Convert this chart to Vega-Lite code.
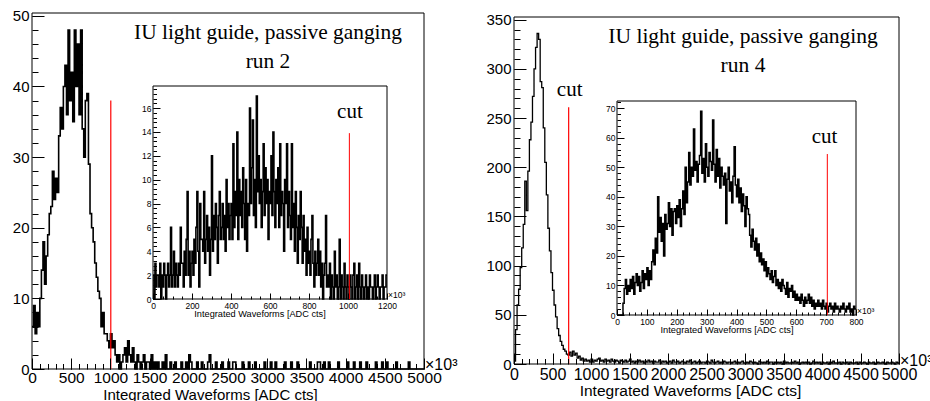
{
"$schema": "https://vega.github.io/schema/vega-lite/v6.json",
"width": 930, "height": 401, "padding": 0, "autosize": {"type": "none"},
"background": "white",
"config": {"view": {"stroke": null}, "axis": {"grid": false, "domain": false, "labelColor": "black", "tickColor": "black", "titleColor": "black", "labelFont": "Liberation Sans", "titleFont": "Liberation Sans", "titleFontWeight": "normal", "labelOverlap": false, "labelFlush": false, "labelBound": false, "tickWidth": 1}},
"data": {"values": [{}]},
"datasets": {
"run2": [{"x":0,"n":6},{"x":20,"n":9},{"x":40,"n":5},{"x":60,"n":8},{"x":80,"n":6},{"x":100,"n":10},{"x":120,"n":14},{"x":140,"n":18},{"x":160,"n":12},{"x":180,"n":16},{"x":200,"n":19},{"x":220,"n":22},{"x":240,"n":23},{"x":260,"n":28},{"x":280,"n":24},{"x":300,"n":27},{"x":320,"n":25},{"x":340,"n":33},{"x":360,"n":37},{"x":380,"n":34},{"x":400,"n":40},{"x":420,"n":43},{"x":440,"n":36},{"x":460,"n":48},{"x":480,"n":38},{"x":500,"n":42},{"x":520,"n":35},{"x":540,"n":48},{"x":560,"n":40},{"x":580,"n":46},{"x":600,"n":36},{"x":620,"n":48},{"x":640,"n":34},{"x":660,"n":30},{"x":680,"n":38},{"x":700,"n":39},{"x":720,"n":29},{"x":740,"n":22},{"x":760,"n":20},{"x":780,"n":18},{"x":800,"n":15},{"x":820,"n":13},{"x":840,"n":11},{"x":860,"n":10},{"x":880,"n":6},{"x":900,"n":8},{"x":920,"n":5},{"x":940,"n":5},{"x":960,"n":4},{"x":980,"n":3},{"x":1000,"n":5},{"x":1020,"n":3},{"x":1040,"n":4},{"x":1060,"n":2},{"x":1080,"n":1},{"x":1100,"n":2},{"x":1120,"n":0},{"x":1140,"n":1},{"x":1160,"n":2},{"x":1180,"n":3},{"x":1200,"n":1},{"x":1220,"n":4},{"x":1240,"n":2},{"x":1260,"n":1},{"x":1280,"n":3},{"x":1300,"n":1},{"x":1320,"n":0},{"x":1340,"n":2},{"x":1360,"n":1},{"x":1380,"n":0},{"x":1400,"n":1},{"x":1420,"n":2},{"x":1440,"n":0},{"x":1460,"n":1},{"x":1480,"n":1},{"x":1500,"n":0},{"x":1520,"n":2},{"x":1540,"n":0},{"x":1560,"n":1},{"x":1580,"n":0},{"x":1600,"n":1},{"x":1620,"n":0},{"x":1660,"n":1},{"x":1680,"n":0},{"x":1700,"n":2},{"x":1720,"n":0},{"x":1760,"n":1},{"x":1780,"n":0},{"x":1820,"n":1},{"x":1840,"n":0},{"x":1900,"n":1},{"x":1920,"n":0},{"x":1960,"n":1},{"x":1980,"n":0},{"x":2000,"n":2},{"x":2020,"n":1},{"x":2040,"n":0},{"x":2100,"n":1},{"x":2120,"n":0},{"x":2160,"n":1},{"x":2180,"n":0},{"x":2240,"n":1},{"x":2260,"n":2},{"x":2280,"n":0},{"x":2340,"n":1},{"x":2360,"n":0},{"x":2420,"n":1},{"x":2440,"n":0},{"x":2500,"n":1},{"x":2520,"n":0},{"x":2560,"n":1},{"x":2580,"n":1},{"x":2600,"n":0},{"x":2680,"n":1},{"x":2700,"n":0},{"x":2760,"n":1},{"x":2780,"n":0},{"x":2840,"n":1},{"x":2860,"n":0},{"x":2960,"n":1},{"x":2980,"n":0},{"x":3040,"n":1},{"x":3060,"n":0},{"x":3100,"n":1},{"x":3120,"n":0},{"x":3220,"n":1},{"x":3240,"n":0},{"x":3300,"n":1},{"x":3320,"n":0},{"x":3380,"n":1},{"x":3400,"n":0},{"x":3540,"n":1},{"x":3560,"n":0},{"x":3640,"n":1},{"x":3660,"n":1},{"x":3680,"n":0},{"x":3720,"n":1},{"x":3740,"n":0},{"x":3780,"n":1},{"x":3800,"n":0},{"x":3900,"n":1},{"x":3920,"n":0},{"x":4020,"n":1},{"x":4040,"n":0},{"x":4100,"n":1},{"x":4120,"n":0},{"x":4180,"n":1},{"x":4200,"n":0},{"x":4260,"n":1},{"x":4280,"n":0},{"x":4380,"n":1},{"x":4400,"n":0},{"x":4460,"n":1},{"x":4480,"n":0},{"x":4520,"n":1},{"x":4540,"n":0},{"x":4640,"n":1},{"x":4660,"n":0},{"x":4800,"n":1},{"x":4820,"n":0},{"x":5000,"n":0}],
"run2zoom": [{"x":0,"n":2},{"x":5,"n":0},{"x":10,"n":3},{"x":15,"n":1},{"x":20,"n":2},{"x":25,"n":2},{"x":30,"n":1},{"x":35,"n":3},{"x":40,"n":0},{"x":45,"n":2},{"x":50,"n":1},{"x":55,"n":3},{"x":60,"n":2},{"x":65,"n":0},{"x":70,"n":2},{"x":75,"n":3},{"x":80,"n":1},{"x":85,"n":2},{"x":90,"n":6},{"x":95,"n":1},{"x":100,"n":2},{"x":105,"n":4},{"x":110,"n":1},{"x":115,"n":3},{"x":120,"n":2},{"x":125,"n":1},{"x":130,"n":3},{"x":135,"n":2},{"x":140,"n":6},{"x":145,"n":3},{"x":150,"n":3},{"x":155,"n":1},{"x":160,"n":4},{"x":165,"n":2},{"x":170,"n":5},{"x":175,"n":9},{"x":180,"n":2},{"x":185,"n":4},{"x":190,"n":1},{"x":195,"n":3},{"x":200,"n":4},{"x":205,"n":2},{"x":210,"n":5},{"x":215,"n":3},{"x":220,"n":6},{"x":225,"n":9},{"x":230,"n":4},{"x":235,"n":1},{"x":240,"n":8},{"x":245,"n":5},{"x":250,"n":5},{"x":255,"n":4},{"x":260,"n":9},{"x":265,"n":3},{"x":270,"n":5},{"x":275,"n":7},{"x":280,"n":4},{"x":285,"n":6},{"x":290,"n":2},{"x":295,"n":5},{"x":300,"n":12},{"x":305,"n":4},{"x":310,"n":7},{"x":315,"n":5},{"x":320,"n":8},{"x":325,"n":6},{"x":330,"n":3},{"x":335,"n":7},{"x":340,"n":9},{"x":345,"n":5},{"x":350,"n":6},{"x":355,"n":8},{"x":360,"n":5},{"x":365,"n":7},{"x":370,"n":4},{"x":375,"n":10},{"x":380,"n":6},{"x":385,"n":8},{"x":390,"n":5},{"x":395,"n":7},{"x":400,"n":8},{"x":405,"n":5},{"x":410,"n":13},{"x":415,"n":6},{"x":420,"n":9},{"x":425,"n":7},{"x":430,"n":14},{"x":435,"n":5},{"x":440,"n":10},{"x":445,"n":7},{"x":450,"n":9},{"x":455,"n":6},{"x":460,"n":11},{"x":465,"n":8},{"x":470,"n":5},{"x":475,"n":10},{"x":480,"n":4},{"x":485,"n":8},{"x":490,"n":7},{"x":495,"n":16},{"x":500,"n":8},{"x":505,"n":11},{"x":510,"n":15},{"x":515,"n":7},{"x":520,"n":10},{"x":525,"n":6},{"x":530,"n":17},{"x":535,"n":9},{"x":540,"n":12},{"x":545,"n":8},{"x":550,"n":10},{"x":555,"n":6},{"x":560,"n":9},{"x":565,"n":13},{"x":570,"n":7},{"x":575,"n":11},{"x":580,"n":8},{"x":585,"n":10},{"x":590,"n":5},{"x":595,"n":9},{"x":600,"n":8},{"x":605,"n":12},{"x":610,"n":7},{"x":615,"n":14},{"x":620,"n":9},{"x":625,"n":6},{"x":630,"n":10},{"x":635,"n":8},{"x":640,"n":11},{"x":645,"n":6},{"x":650,"n":13},{"x":655,"n":7},{"x":660,"n":9},{"x":665,"n":8},{"x":670,"n":4},{"x":675,"n":10},{"x":680,"n":8},{"x":685,"n":13},{"x":690,"n":6},{"x":695,"n":9},{"x":700,"n":7},{"x":705,"n":5},{"x":710,"n":13},{"x":715,"n":6},{"x":720,"n":8},{"x":725,"n":4},{"x":730,"n":9},{"x":735,"n":6},{"x":740,"n":3},{"x":745,"n":7},{"x":750,"n":5},{"x":755,"n":9},{"x":760,"n":6},{"x":765,"n":3},{"x":770,"n":7},{"x":775,"n":4},{"x":780,"n":5},{"x":785,"n":2},{"x":790,"n":6},{"x":795,"n":3},{"x":800,"n":4},{"x":805,"n":2},{"x":810,"n":5},{"x":815,"n":7},{"x":820,"n":3},{"x":825,"n":1},{"x":830,"n":4},{"x":835,"n":2},{"x":840,"n":3},{"x":845,"n":5},{"x":850,"n":2},{"x":855,"n":4},{"x":860,"n":1},{"x":865,"n":3},{"x":870,"n":0},{"x":875,"n":2},{"x":880,"n":3},{"x":885,"n":7},{"x":890,"n":1},{"x":895,"n":2},{"x":900,"n":1},{"x":905,"n":3},{"x":910,"n":0},{"x":915,"n":2},{"x":920,"n":1},{"x":925,"n":0},{"x":930,"n":4},{"x":935,"n":1},{"x":940,"n":2},{"x":945,"n":0},{"x":950,"n":1},{"x":955,"n":5},{"x":960,"n":0},{"x":965,"n":2},{"x":970,"n":1},{"x":975,"n":0},{"x":980,"n":3},{"x":985,"n":1},{"x":990,"n":0},{"x":995,"n":2},{"x":1000,"n":1},{"x":1005,"n":0},{"x":1010,"n":2},{"x":1015,"n":1},{"x":1020,"n":0},{"x":1025,"n":2},{"x":1030,"n":3},{"x":1035,"n":0},{"x":1040,"n":1},{"x":1045,"n":2},{"x":1050,"n":0},{"x":1055,"n":3},{"x":1060,"n":1},{"x":1065,"n":0},{"x":1070,"n":2},{"x":1075,"n":1},{"x":1080,"n":0},{"x":1085,"n":1},{"x":1090,"n":2},{"x":1095,"n":0},{"x":1100,"n":1},{"x":1105,"n":0},{"x":1110,"n":2},{"x":1115,"n":1},{"x":1120,"n":1},{"x":1125,"n":0},{"x":1130,"n":1},{"x":1135,"n":2},{"x":1140,"n":0},{"x":1145,"n":1},{"x":1150,"n":2},{"x":1155,"n":1},{"x":1160,"n":0},{"x":1165,"n":1},{"x":1170,"n":1},{"x":1175,"n":2},{"x":1180,"n":0},{"x":1185,"n":1},{"x":1190,"n":1},{"x":1195,"n":2},{"x":1200,"n":2}],
"run4": [{"x":0,"n":3},{"x":20,"n":35},{"x":40,"n":60},{"x":60,"n":76},{"x":80,"n":98},{"x":100,"n":118},{"x":120,"n":142},{"x":140,"n":186},{"x":160,"n":156},{"x":180,"n":196},{"x":200,"n":228},{"x":220,"n":246},{"x":240,"n":272},{"x":260,"n":300},{"x":280,"n":322},{"x":300,"n":336},{"x":320,"n":330},{"x":340,"n":287},{"x":360,"n":281},{"x":380,"n":240},{"x":400,"n":205},{"x":420,"n":172},{"x":440,"n":138},{"x":460,"n":115},{"x":480,"n":93},{"x":500,"n":75},{"x":520,"n":60},{"x":540,"n":48},{"x":560,"n":36},{"x":580,"n":29},{"x":600,"n":23},{"x":620,"n":19},{"x":640,"n":15},{"x":660,"n":13},{"x":680,"n":10},{"x":700,"n":9},{"x":720,"n":12},{"x":740,"n":8},{"x":760,"n":13},{"x":780,"n":9},{"x":800,"n":11},{"x":820,"n":6},{"x":840,"n":8},{"x":860,"n":4},{"x":880,"n":6},{"x":900,"n":3},{"x":920,"n":5},{"x":940,"n":3},{"x":960,"n":4},{"x":980,"n":2},
{"x":1000,"n":5},{"x":1020,"n":2},{"x":1040,"n":4},{"x":1060,"n":3},{"x":1080,"n":5},{"x":1100,"n":6},{"x":1120,"n":3},{"x":1140,"n":4},{"x":1160,"n":2},{"x":1180,"n":5},
{"x":1200,"n":3},{"x":1220,"n":4},{"x":1240,"n":2},{"x":1260,"n":5},{"x":1280,"n":3},{"x":1300,"n":2},{"x":1320,"n":4},{"x":1340,"n":3},{"x":1360,"n":1},{"x":1380,"n":4},
{"x":1400,"n":3},{"x":1420,"n":2},{"x":1440,"n":4},{"x":1460,"n":2},{"x":1480,"n":3},{"x":1500,"n":5},{"x":1520,"n":2},{"x":1540,"n":3},{"x":1560,"n":1},{"x":1580,"n":3},
{"x":1600,"n":2},{"x":1620,"n":4},{"x":1640,"n":2},{"x":1660,"n":3},{"x":1680,"n":1},{"x":1700,"n":3},{"x":1720,"n":2},{"x":1740,"n":4},{"x":1760,"n":2},{"x":1780,"n":3},
{"x":1800,"n":1},{"x":1820,"n":3},{"x":1840,"n":2},{"x":1860,"n":2},{"x":1880,"n":4},{"x":1900,"n":1},{"x":1920,"n":3},{"x":1940,"n":2},{"x":1960,"n":3},{"x":1980,"n":1},
{"x":2000,"n":2},{"x":2020,"n":3},{"x":2040,"n":1},{"x":2060,"n":4},{"x":2080,"n":2},{"x":2100,"n":2},{"x":2120,"n":3},{"x":2140,"n":1},{"x":2160,"n":2},{"x":2180,"n":3},
{"x":2200,"n":2},{"x":2220,"n":1},{"x":2240,"n":3},{"x":2260,"n":2},{"x":2280,"n":4},{"x":2300,"n":1},{"x":2320,"n":2},{"x":2340,"n":3},{"x":2360,"n":1},{"x":2380,"n":2},
{"x":2400,"n":3},{"x":2420,"n":1},{"x":2440,"n":2},{"x":2460,"n":2},{"x":2480,"n":1},{"x":2500,"n":3},{"x":2520,"n":2},{"x":2540,"n":1},{"x":2560,"n":4},{"x":2580,"n":2},
{"x":2600,"n":1},{"x":2620,"n":2},{"x":2640,"n":3},{"x":2660,"n":1},{"x":2680,"n":2},{"x":2700,"n":1},{"x":2720,"n":3},{"x":2740,"n":2},{"x":2760,"n":1},{"x":2780,"n":2},
{"x":2800,"n":2},{"x":2820,"n":1},{"x":2840,"n":2},{"x":2860,"n":3},{"x":2880,"n":1},{"x":2900,"n":2},{"x":2920,"n":1},{"x":2940,"n":2},{"x":2960,"n":3},{"x":2980,"n":1},
{"x":3000,"n":1},{"x":3020,"n":2},{"x":3040,"n":1},{"x":3060,"n":3},{"x":3080,"n":2},{"x":3100,"n":1},{"x":3120,"n":2},{"x":3140,"n":1},{"x":3160,"n":0},{"x":3180,"n":3},
{"x":3200,"n":2},{"x":3220,"n":1},{"x":3240,"n":2},{"x":3260,"n":1},{"x":3280,"n":3},{"x":3300,"n":1},{"x":3320,"n":2},{"x":3340,"n":2},{"x":3360,"n":0},{"x":3380,"n":2},
{"x":3400,"n":1},{"x":3420,"n":2},{"x":3440,"n":1},{"x":3460,"n":2},{"x":3480,"n":0},{"x":3500,"n":3},{"x":3520,"n":1},{"x":3540,"n":2},{"x":3560,"n":1},{"x":3580,"n":1},
{"x":3600,"n":2},{"x":3620,"n":1},{"x":3640,"n":3},{"x":3660,"n":1},{"x":3680,"n":2},{"x":3700,"n":0},{"x":3720,"n":1},{"x":3740,"n":2},{"x":3760,"n":1},{"x":3780,"n":2},
{"x":3800,"n":1},{"x":3820,"n":2},{"x":3840,"n":0},{"x":3860,"n":1},{"x":3880,"n":3},{"x":3900,"n":1},{"x":3920,"n":2},{"x":3940,"n":1},{"x":3960,"n":2},{"x":3980,"n":0},
{"x":4000,"n":2},{"x":4020,"n":1},{"x":4040,"n":1},{"x":4060,"n":2},{"x":4080,"n":0},{"x":4100,"n":2},{"x":4120,"n":1},{"x":4140,"n":3},{"x":4160,"n":1},{"x":4180,"n":1},
{"x":4200,"n":1},{"x":4220,"n":2},{"x":4240,"n":0},{"x":4260,"n":2},{"x":4280,"n":1},{"x":4300,"n":1},{"x":4320,"n":2},{"x":4340,"n":0},{"x":4360,"n":2},{"x":4380,"n":1},
{"x":4400,"n":1},{"x":4420,"n":1},{"x":4440,"n":2},{"x":4460,"n":0},{"x":4480,"n":2},{"x":4500,"n":1},{"x":4520,"n":1},{"x":4540,"n":2},{"x":4560,"n":1},{"x":4580,"n":0},
{"x":4600,"n":2},{"x":4620,"n":1},{"x":4640,"n":1},{"x":4660,"n":2},{"x":4680,"n":0},{"x":4700,"n":1},{"x":4720,"n":2},{"x":4740,"n":1},{"x":4760,"n":1},{"x":4780,"n":2},
{"x":4800,"n":1},{"x":4820,"n":0},{"x":4840,"n":2},{"x":4860,"n":1},{"x":4880,"n":1},{"x":4900,"n":2},{"x":4920,"n":1},{"x":4940,"n":0},{"x":4960,"n":2},{"x":4980,"n":1},{"x":5000,"n":1}],
"run4zoom": [{"x":0,"n":0},{"x":4,"n":0},{"x":8,"n":0},{"x":12,"n":0},{"x":16,"n":0},{"x":20,"n":4},{"x":24,"n":9},{"x":28,"n":12},{"x":32,"n":7},{"x":36,"n":10},{"x":40,"n":8},{"x":44,"n":12},{"x":48,"n":9},{"x":52,"n":13},{"x":56,"n":7},{"x":60,"n":11},{"x":64,"n":14},{"x":68,"n":10},{"x":72,"n":13},{"x":76,"n":8},{"x":80,"n":11},{"x":84,"n":15},{"x":88,"n":9},{"x":92,"n":14},{"x":96,"n":12},{"x":100,"n":16},{"x":104,"n":10},{"x":108,"n":15},{"x":112,"n":12},{"x":116,"n":18},{"x":120,"n":22},{"x":124,"n":17},{"x":128,"n":26},{"x":132,"n":21},{"x":136,"n":40},{"x":140,"n":28},{"x":144,"n":33},{"x":148,"n":25},{"x":152,"n":31},{"x":156,"n":20},{"x":160,"n":34},{"x":164,"n":29},{"x":168,"n":31},{"x":172,"n":38},{"x":176,"n":30},{"x":180,"n":36},{"x":184,"n":27},{"x":188,"n":35},{"x":192,"n":36},{"x":196,"n":31},{"x":200,"n":37},{"x":204,"n":33},{"x":208,"n":39},{"x":212,"n":30},{"x":216,"n":36},{"x":220,"n":42},{"x":224,"n":34},{"x":228,"n":50},{"x":232,"n":38},{"x":236,"n":45},{"x":240,"n":55},{"x":244,"n":44},{"x":248,"n":50},{"x":252,"n":47},{"x":256,"n":63},{"x":260,"n":49},{"x":264,"n":52},{"x":268,"n":45},{"x":272,"n":51},{"x":276,"n":54},{"x":280,"n":69},{"x":284,"n":48},{"x":288,"n":53},{"x":292,"n":45},{"x":296,"n":58},{"x":300,"n":50},{"x":304,"n":47},{"x":308,"n":55},{"x":312,"n":52},{"x":316,"n":49},{"x":320,"n":66},{"x":324,"n":51},{"x":328,"n":45},{"x":332,"n":56},{"x":336,"n":47},{"x":340,"n":53},{"x":344,"n":43},{"x":348,"n":50},{"x":352,"n":47},{"x":356,"n":44},{"x":360,"n":48},{"x":364,"n":31},{"x":368,"n":46},{"x":372,"n":50},{"x":376,"n":42},{"x":380,"n":45},{"x":384,"n":38},{"x":388,"n":47},{"x":392,"n":57},{"x":396,"n":44},{"x":400,"n":40},{"x":404,"n":46},{"x":408,"n":38},{"x":412,"n":43},{"x":416,"n":35},{"x":420,"n":41},{"x":424,"n":37},{"x":428,"n":30},{"x":432,"n":40},{"x":436,"n":36},{"x":440,"n":34},{"x":444,"n":27},{"x":448,"n":23},{"x":452,"n":29},{"x":456,"n":25},{"x":460,"n":22},{"x":464,"n":26},{"x":468,"n":20},{"x":472,"n":24},{"x":476,"n":18},{"x":480,"n":21},{"x":484,"n":17},{"x":488,"n":19},{"x":492,"n":15},{"x":496,"n":18},{"x":500,"n":13},{"x":504,"n":16},{"x":508,"n":14},{"x":512,"n":12},{"x":516,"n":15},{"x":520,"n":11},{"x":524,"n":13},{"x":528,"n":15},{"x":532,"n":10},{"x":536,"n":12},{"x":540,"n":9},{"x":544,"n":11},{"x":548,"n":8},{"x":552,"n":12},{"x":556,"n":10},{"x":560,"n":9},{"x":564,"n":7},{"x":568,"n":11},{"x":572,"n":6},{"x":576,"n":9},{"x":580,"n":8},{"x":584,"n":10},{"x":588,"n":6},{"x":592,"n":8},{"x":596,"n":5},{"x":600,"n":7},{"x":604,"n":5},{"x":608,"n":6},{"x":612,"n":4},{"x":616,"n":7},{"x":620,"n":5},{"x":624,"n":3},{"x":628,"n":6},{"x":632,"n":4},{"x":636,"n":5},{"x":640,"n":7},{"x":644,"n":4},{"x":648,"n":6},{"x":652,"n":3},{"x":656,"n":5},{"x":660,"n":2},{"x":664,"n":4},{"x":668,"n":3},{"x":672,"n":5},{"x":676,"n":3},{"x":680,"n":4},{"x":684,"n":2},{"x":688,"n":5},{"x":692,"n":3},{"x":696,"n":2},{"x":700,"n":4},{"x":704,"n":1},{"x":708,"n":3},{"x":712,"n":4},{"x":716,"n":2},{"x":720,"n":3},{"x":724,"n":1},{"x":728,"n":4},{"x":732,"n":2},{"x":736,"n":3},{"x":740,"n":2},{"x":744,"n":1},{"x":748,"n":3},{"x":752,"n":2},{"x":756,"n":4},{"x":760,"n":2},{"x":764,"n":1},{"x":768,"n":3},{"x":772,"n":2},{"x":776,"n":4},{"x":780,"n":1},{"x":784,"n":2},{"x":788,"n":0},{"x":792,"n":3},{"x":796,"n":2},{"x":800,"n":2}]
},
"layer": [
{"mark": {"type": "rect", "fill": "white", "stroke": "black", "strokeWidth": 1},
 "encoding": {
  "x": {"datum": 0, "type": "quantitative", "scale": {"domain": [0, 5000], "range": [32, 424], "nice": false, "zero": false}, "axis": {"orient": "bottom", "offset": -32, "zindex": 2, "values": [0,100,200,300,400,500,600,700,800,900,1000,1100,1200,1300,1400,1500,1600,1700,1800,1900,2000,2100,2200,2300,2400,2500,2600,2700,2800,2900,3000,3100,3200,3300,3400,3500,3600,3700,3800,3900,4000,4100,4200,4300,4400,4500,4600,4700,4800,4900,5000], "tickSize": -5.5, "labels": false, "title": null}},
  "x2": {"datum": 5000},
  "y": {"datum": 0, "type": "quantitative", "scale": {"domain": [0, 50.4], "range": [369, 13], "nice": false, "zero": false}, "axis": {"orient": "left", "offset": -32, "zindex": 2, "values": [0,2,4,6,8,10,12,14,16,18,20,22,24,26,28,30,32,34,36,38,40,42,44,46,48,50], "tickSize": -6, "labels": false, "title": null}},
  "y2": {"datum": 50.4}}},
{"layer": [
  {"data": {"name": "run2"}, "mark": {"type": "line", "interpolate": "step-after", "color": "black", "strokeWidth": 1.6},
   "encoding": {
    "x": {"field": "x", "type": "quantitative", "scale": {"domain": [0, 5000], "range": [32, 424], "nice": false, "zero": false}, "axis": {"orient": "bottom", "offset": -32, "zindex": 2, "values": [0,500,1000,1500,2000,2500,3000,3500,4000,4500,5000], "tickSize": -11, "labelPadding": 12, "labelFontSize": 15.5, "format": "d", "title": "Integrated Waveforms [ADC cts]", "titleFontSize": 15, "titleX": 210, "titleY": 30, "titleAlign": "center", "titleBaseline": "alphabetic"}},
    "y": {"field": "n", "type": "quantitative", "scale": {"domain": [0, 50.4], "range": [369, 13], "nice": false, "zero": false}, "axis": {"orient": "left", "offset": -32, "zindex": 2, "values": [0,10,20,30,40,50], "tickSize": -12, "labelPadding": 15, "labelFontSize": 15, "format": "d", "title": null}}}},
  {"mark": {"type": "rule", "color": "#ff0000", "strokeWidth": 1.2},
   "encoding": {"x": {"datum": 1005, "type": "quantitative"}, "y": {"datum": 0, "type": "quantitative"}, "y2": {"datum": 38}}},
  {"mark": {"type": "text", "text": ["IU light guide, passive ganging", "run 2"], "font": "Liberation Serif", "fontSize": 21.4, "lineHeight": 28.5, "align": "center", "baseline": "alphabetic", "color": "black"},
   "encoding": {"x": {"datum": 3010, "type": "quantitative"}, "y": {"datum": 46.65, "type": "quantitative"}}},
  {"mark": {"type": "text", "text": "×10³", "font": "Liberation Sans", "fontSize": 16, "align": "left", "baseline": "alphabetic", "dx": 1, "dy": 1, "color": "black"},
   "encoding": {"x": {"datum": 5000, "type": "quantitative"}, "y": {"datum": 0, "type": "quantitative"}}}
 ]},
{"mark": {"type": "rect", "fill": "white", "stroke": "black", "strokeWidth": 1},
 "encoding": {
  "x": {"datum": 0, "type": "quantitative", "scale": {"domain": [0, 1200], "range": [153, 387], "nice": false, "zero": false}, "axis": {"orient": "bottom", "offset": -102, "zindex": 2, "values": [0,50,100,150,200,250,300,350,400,450,500,550,600,650,700,750,800,850,900,950,1000,1050,1100,1150,1200], "tickSize": -3, "labels": false, "title": null}},
  "x2": {"datum": 1200},
  "y": {"datum": 0, "type": "quantitative", "scale": {"domain": [0, 17.85], "range": [299, 86], "nice": false, "zero": false}, "axis": {"orient": "left", "offset": -153, "zindex": 2, "values": [0,0.4,0.8,1.2,1.6,2,2.4,2.8,3.2,3.6,4,4.4,4.8,5.2,5.6,6,6.4,6.8,7.2,7.6,8,8.4,8.8,9.2,9.6,10,10.4,10.8,11.2,11.6,12,12.4,12.8,13.2,13.6,14,14.4,14.8,15.2,15.6,16,16.4,16.8,17.2,17.6], "tickSize": -3.5, "labels": false, "title": null}},
  "y2": {"datum": 17.85}}},
{"layer": [
  {"data": {"name": "run2zoom"}, "mark": {"type": "line", "interpolate": "step-after", "color": "black", "strokeWidth": 1.6},
   "encoding": {
    "x": {"field": "x", "type": "quantitative", "scale": {"domain": [0, 1200], "range": [153, 387], "nice": false, "zero": false}, "axis": {"orient": "bottom", "offset": -102, "zindex": 2, "values": [0,200,400,600,800,1000,1200], "tickSize": -6, "labelPadding": 8, "labelFontSize": 8.5, "format": "d", "title": "Integrated Waveforms [ADC cts]", "titleFontSize": 9.2, "titleX": 259.5, "titleY": 17.5, "titleAlign": "center", "titleBaseline": "alphabetic"}},
    "y": {"field": "n", "type": "quantitative", "scale": {"domain": [0, 17.85], "range": [299, 86], "nice": false, "zero": false}, "axis": {"orient": "left", "offset": -153, "zindex": 2, "values": [0,2,4,6,8,10,12,14,16], "tickSize": -7, "labelPadding": 9, "labelFontSize": 8.5, "format": "d", "title": null}}}},
  {"mark": {"type": "rule", "color": "#ff0000", "strokeWidth": 1},
   "encoding": {"x": {"datum": 1007, "type": "quantitative"}, "y": {"datum": 0, "type": "quantitative"}, "y2": {"datum": 13.9}}},
  {"mark": {"type": "text", "text": "cut", "font": "Liberation Serif", "fontSize": 21, "align": "center", "baseline": "alphabetic", "color": "black"},
   "encoding": {"x": {"datum": 1010, "type": "quantitative"}, "y": {"datum": 15.17, "type": "quantitative"}}},
  {"mark": {"type": "text", "text": "×10³", "font": "Liberation Sans", "fontSize": 8.5, "align": "left", "baseline": "alphabetic", "dx": 1, "dy": -1, "color": "black"},
   "encoding": {"x": {"datum": 1200, "type": "quantitative"}, "y": {"datum": 0, "type": "quantitative"}}}
 ]},
{"mark": {"type": "rect", "fill": "white", "stroke": "black", "strokeWidth": 1},
 "encoding": {
  "x": {"datum": 0, "type": "quantitative", "scale": {"domain": [0, 5000], "range": [514, 899], "nice": false, "zero": false}, "axis": {"orient": "bottom", "offset": -37, "zindex": 2, "values": [0,100,200,300,400,500,600,700,800,900,1000,1100,1200,1300,1400,1500,1600,1700,1800,1900,2000,2100,2200,2300,2400,2500,2600,2700,2800,2900,3000,3100,3200,3300,3400,3500,3600,3700,3800,3900,4000,4100,4200,4300,4400,4500,4600,4700,4800,4900,5000], "tickSize": -5.5, "labels": false, "title": null}},
  "x2": {"datum": 5000},
  "y": {"datum": 0, "type": "quantitative", "scale": {"domain": [0, 352.8], "range": [364, 17], "nice": false, "zero": false}, "axis": {"orient": "left", "offset": -514, "zindex": 2, "values": [0,10,20,30,40,50,60,70,80,90,100,110,120,130,140,150,160,170,180,190,200,210,220,230,240,250,260,270,280,290,300,310,320,330,340,350], "tickSize": -6, "labels": false, "title": null}},
  "y2": {"datum": 352.8}}},
{"layer": [
  {"data": {"name": "run4"}, "mark": {"type": "line", "interpolate": "step-after", "color": "black", "strokeWidth": 1.3},
   "encoding": {
    "x": {"field": "x", "type": "quantitative", "scale": {"domain": [0, 5000], "range": [514, 899], "nice": false, "zero": false}, "axis": {"orient": "bottom", "offset": -37, "zindex": 2, "values": [0,500,1000,1500,2000,2500,3000,3500,4000,4500,5000], "tickSize": -11, "labelPadding": 13, "labelFontSize": 16, "format": "d", "title": "Integrated Waveforms [ADC cts]", "titleFontSize": 15.5, "titleX": 690, "titleY": 31, "titleAlign": "center", "titleBaseline": "alphabetic"}},
    "y": {"field": "n", "type": "quantitative", "scale": {"domain": [0, 352.8], "range": [364, 17], "nice": false, "zero": false}, "axis": {"orient": "left", "offset": -514, "zindex": 2, "values": [0,50,100,150,200,250,300,350], "tickSize": -12, "labelPadding": 15, "labelFontSize": 15, "format": "d", "title": null}}}},
  {"mark": {"type": "rule", "color": "#ff0000", "strokeWidth": 1.2},
   "encoding": {"x": {"datum": 710, "type": "quantitative"}, "y": {"datum": 0, "type": "quantitative"}, "y2": {"datum": 261}}},
  {"mark": {"type": "text", "text": "cut", "font": "Liberation Serif", "fontSize": 21, "align": "center", "baseline": "alphabetic", "color": "black"},
   "encoding": {"x": {"datum": 723, "type": "quantitative"}, "y": {"datum": 272, "type": "quantitative"}}},
  {"mark": {"type": "text", "text": ["IU light guide, passive ganging", "run 4"], "font": "Liberation Serif", "fontSize": 21.5, "lineHeight": 29, "align": "center", "baseline": "alphabetic", "color": "black"},
   "encoding": {"x": {"datum": 2974, "type": "quantitative"}, "y": {"datum": 326.4, "type": "quantitative"}}},
  {"mark": {"type": "text", "text": "×10³", "font": "Liberation Sans", "fontSize": 16, "align": "left", "baseline": "alphabetic", "dx": 1, "dy": 2, "color": "black"},
   "encoding": {"x": {"datum": 5000, "type": "quantitative"}, "y": {"datum": 0, "type": "quantitative"}}}
 ]},
{"mark": {"type": "rect", "fill": "white", "stroke": "black", "strokeWidth": 1},
 "encoding": {
  "x": {"datum": 0, "type": "quantitative", "scale": {"domain": [0, 800], "range": [617, 856], "nice": false, "zero": false}, "axis": {"orient": "bottom", "offset": -86, "zindex": 2, "values": [0,20,40,60,80,100,120,140,160,180,200,220,240,260,280,300,320,340,360,380,400,420,440,460,480,500,520,540,560,580,600,620,640,660,680,700,720,740,760,780,800], "tickSize": -3, "labels": false, "title": null}},
  "x2": {"datum": 800},
  "y": {"datum": 0, "type": "quantitative", "scale": {"domain": [0, 72.45], "range": [315, 101], "nice": false, "zero": false}, "axis": {"orient": "left", "offset": -617, "zindex": 2, "values": [0,2,4,6,8,10,12,14,16,18,20,22,24,26,28,30,32,34,36,38,40,42,44,46,48,50,52,54,56,58,60,62,64,66,68,70,72], "tickSize": -3.5, "labels": false, "title": null}},
  "y2": {"datum": 72.45}}},
{"layer": [
  {"data": {"name": "run4zoom"}, "mark": {"type": "line", "interpolate": "step-after", "color": "black", "strokeWidth": 1.5},
   "encoding": {
    "x": {"field": "x", "type": "quantitative", "scale": {"domain": [0, 800], "range": [617, 856], "nice": false, "zero": false}, "axis": {"orient": "bottom", "offset": -86, "zindex": 2, "values": [0,100,200,300,400,500,600,700,800], "tickSize": -6, "labelPadding": 8, "labelFontSize": 8.5, "format": "d", "title": "Integrated Waveforms [ADC cts]", "titleFontSize": 9.3, "titleX": 726.5, "titleY": 17.5, "titleAlign": "center", "titleBaseline": "alphabetic"}},
    "y": {"field": "n", "type": "quantitative", "scale": {"domain": [0, 72.45], "range": [315, 101], "nice": false, "zero": false}, "axis": {"orient": "left", "offset": -617, "zindex": 2, "values": [0,10,20,30,40,50,60,70], "tickSize": -7, "labelPadding": 9, "labelFontSize": 8.5, "format": "d", "title": null}}}},
  {"mark": {"type": "rule", "color": "#ff0000", "strokeWidth": 1},
   "encoding": {"x": {"datum": 704, "type": "quantitative"}, "y": {"datum": 0, "type": "quantitative"}, "y2": {"datum": 54.5}}},
  {"mark": {"type": "text", "text": "cut", "font": "Liberation Serif", "fontSize": 21, "align": "center", "baseline": "alphabetic", "color": "black"},
   "encoding": {"x": {"datum": 695, "type": "quantitative"}, "y": {"datum": 58.4, "type": "quantitative"}}},
  {"mark": {"type": "text", "text": "×10³", "font": "Liberation Sans", "fontSize": 8.5, "align": "left", "baseline": "alphabetic", "dx": 1, "dy": -1, "color": "black"},
   "encoding": {"x": {"datum": 800, "type": "quantitative"}, "y": {"datum": 0, "type": "quantitative"}}}
 ]}
],
"resolve": {"scale": {"x": "independent", "y": "independent"}, "axis": {"x": "independent", "y": "independent"}}
}
